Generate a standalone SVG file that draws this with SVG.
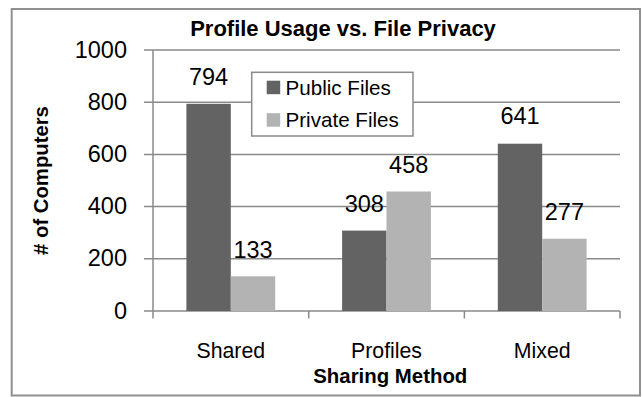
<svg xmlns="http://www.w3.org/2000/svg" width="643" height="397" viewBox="0 0 643 397">
<style>
text{font-family:"Liberation Sans",Arial,sans-serif;fill:#000}
.num{font-size:23.5px}
.ylab{font-size:23.5px;text-anchor:end}
.cat{font-size:21.3px;text-anchor:middle}
.lbl{font-size:23.5px;text-anchor:middle}
.leg{font-size:20.6px}
.bold{font-weight:bold}
.grid{stroke:#8a8a8a;stroke-width:1.5;fill:none}
.pub{fill:#636363}
.priv{fill:#b3b3b3}
</style>
<rect x="0" y="0" width="643" height="397" fill="#fff"/>
<rect id="frame" x="11.7" y="9" width="628.3" height="386.5" fill="#fff" stroke="#8f8f8f" stroke-width="2"/>
<g id="title"><text class="bold" x="343" y="36" font-size="22" text-anchor="middle">Profile Usage vs. File Privacy</text></g>
<g id="connectors">
<path class="grid" d="M144 50H620M144 102.2H620M144 154.4H620M144 206.6H620M144 258.8H620M144 311H620M153 50V318.5M308.7 311V318.5M464.4 311V318.5M620 311V318.5"/>
</g>
<g id="yaxis">
<text class="ylab" x="127" y="57.5">1000</text>
<text class="ylab" x="127" y="109.7">800</text>
<text class="ylab" x="127" y="161.9">600</text>
<text class="ylab" x="127" y="214.1">400</text>
<text class="ylab" x="127" y="266.3">200</text>
<text class="ylab" x="127" y="318.5">0</text>
<text class="bold" transform="translate(47.7 180.5) rotate(-90)" font-size="20.3" text-anchor="middle"># of Computers</text>
</g>
<g id="shared">
<rect class="pub" x="186.4" y="103.8" width="44.4" height="207.2"/>
<rect class="priv" x="230.8" y="276.3" width="44.4" height="34.7"/>
<text class="lbl" x="208.6" y="84.8">794</text>
<text class="lbl" x="253" y="257.7">133</text>
<text class="cat" x="230.8" y="358">Shared</text>
</g>
<g id="profiles">
<rect class="pub" x="342.1" y="230.6" width="44.4" height="80.4"/>
<rect class="priv" x="386.5" y="191.5" width="44.4" height="119.5"/>
<text class="lbl" x="364.3" y="212">308</text>
<text class="lbl" x="408.7" y="172.6">458</text>
<text class="cat" x="386.5" y="358">Profiles</text>
</g>
<g id="mixed">
<rect class="pub" x="497.8" y="143.7" width="44.4" height="167.3"/>
<rect class="priv" x="542.2" y="238.7" width="44.4" height="72.3"/>
<text class="lbl" x="520" y="124">641</text>
<text class="lbl" x="564.4" y="220">277</text>
<text class="cat" x="542.2" y="358">Mixed</text>
</g>
<g id="xtitle"><text class="bold" x="390.3" y="383.3" font-size="20.4" text-anchor="middle">Sharing Method</text></g>
<g id="legend">
<rect x="251.7" y="72.3" width="161.3" height="63.7" fill="#fff" stroke="#8a8a8a" stroke-width="1.5"/>
<rect class="pub" x="266.7" y="80.7" width="13.5" height="13.5"/>
<rect class="priv" x="266.7" y="113.2" width="13.5" height="13.5"/>
<text class="leg" x="285.5" y="95">Public Files</text>
<text class="leg" x="285.5" y="127">Private Files</text>
</g>
</svg>
